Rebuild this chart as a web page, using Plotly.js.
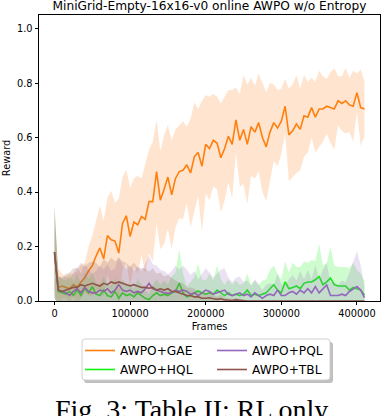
<!DOCTYPE html>
<html>
<head>
<meta charset="utf-8">
<script src="https://cdn.plot.ly/plotly-3.0.1.min.js"></script>
<style>
  html, body { margin: 0; padding: 0; background: #fff; }
  #chart { width: 382px; height: 416px; }
</style>
</head>
<body>
<div id="chart"></div>
<script>
// MiniGrid-Empty-16x16-v0, online AWPO w/o entropy: mean reward with a shaded band

const frames = [
  0, 5000, 10000, 15000, 20000, 25000, 30000, 35000, 40000, 45000,
  50000, 55000, 60000, 65000, 70000, 75000, 80000, 85000, 90000, 95000,
  100000, 105000, 110000, 115000, 120000, 125000, 130000, 135000, 140000, 145000,
  150000, 155000, 160000, 165000, 170000, 175000, 180000, 185000, 190000, 195000,
  200000, 205000, 210000, 215000, 220000, 225000, 230000, 235000, 240000, 245000,
  250000, 255000, 260000, 265000, 270000, 275000, 280000, 285000, 290000, 295000,
  300000, 305000, 310000, 315000, 320000, 325000, 330000, 335000, 340000, 345000,
  350000, 355000, 360000, 365000, 370000, 375000, 380000, 385000, 390000, 395000,
  400000, 405000, 410000
];

const gaeMean = [
  0.17, 0.05, 0.055, 0.05, 0.045, 0.06, 0.05, 0.07, 0.085, 0.11,
  0.13, 0.165, 0.195, 0.155, 0.24, 0.225, 0.22, 0.176, 0.285, 0.313,
  0.237, 0.29, 0.28, 0.31, 0.30, 0.365, 0.365, 0.475, 0.37, 0.41,
  0.455, 0.39, 0.45, 0.475, 0.48, 0.50, 0.47, 0.53, 0.545, 0.495,
  0.575, 0.56, 0.59, 0.58, 0.526, 0.56, 0.605, 0.575, 0.665, 0.59,
  0.63, 0.575, 0.64, 0.62, 0.655, 0.60, 0.566, 0.62, 0.655, 0.635,
  0.66, 0.715, 0.61, 0.625, 0.65, 0.63, 0.68, 0.675, 0.71, 0.675,
  0.705, 0.705, 0.715, 0.71, 0.705, 0.735, 0.725, 0.735, 0.72, 0.715,
  0.765, 0.71, 0.705
];
const gaeStd = [
  0.13, 0.07, 0.045, 0.04, 0.055, 0.04, 0.06, 0.06, 0.055, 0.09,
  0.11, 0.125, 0.155, 0.14, 0.14, 0.18, 0.14, 0.2, 0.17, 0.17,
  0.18, 0.16, 0.18, 0.14, 0.2, 0.19, 0.22, 0.19, 0.18, 0.2,
  0.19, 0.2, 0.18, 0.17, 0.18, 0.14, 0.2, 0.2, 0.16, 0.24,
  0.18, 0.19, 0.17, 0.17, 0.2, 0.19, 0.17, 0.2, 0.12, 0.17,
  0.2, 0.22, 0.18, 0.17, 0.18, 0.2, 0.2, 0.18, 0.14, 0.14,
  0.12, 0.1, 0.17, 0.17, 0.18, 0.15, 0.15, 0.13, 0.11, 0.13,
  0.14, 0.12, 0.1, 0.13, 0.15, 0.09, 0.1, 0.12, 0.1, 0.13,
  0.07, 0.14, 0.1
];

const hqlMean = [
  0.18, 0.035, 0.03, 0.025, 0.035, 0.02, 0.04, 0.02, 0.047, 0.03,
  0.053, 0.025, 0.02, 0.04, 0.02, 0.015, 0.035, 0.01, 0.03, 0.02,
  0.025, 0.015, 0.03, 0.02, 0.01, 0.005, 0.02, 0.03, 0.02, 0.025,
  0.02, 0.03, 0.035, 0.065, 0.03, 0.015, 0.02, 0.03, 0.037, 0.03,
  0.025, 0.03, 0.025, 0.04, 0.03, 0.02, 0.03, 0.02, 0.025, 0.02,
  0.025, 0.04, 0.02, 0.025, 0.02, 0.025, 0.03, 0.045, 0.06, 0.04,
  0.03, 0.07, 0.045, 0.05, 0.055, 0.045, 0.065, 0.07, 0.07, 0.078,
  0.09, 0.06, 0.07, 0.084, 0.06, 0.055, 0.055, 0.055, 0.04, 0.05,
  0.045, 0.04, 0.022
];
const hqlStd = [
  0.17, 0.06, 0.05, 0.05, 0.06, 0.05, 0.06, 0.04, 0.06, 0.05,
  0.05, 0.04, 0.04, 0.05, 0.04, 0.04, 0.05, 0.03, 0.05, 0.04,
  0.04, 0.03, 0.05, 0.04, 0.03, 0.02, 0.04, 0.05, 0.04, 0.05,
  0.04, 0.06, 0.07, 0.125, 0.07, 0.04, 0.05, 0.06, 0.1, 0.05,
  0.05, 0.07, 0.05, 0.09, 0.05, 0.04, 0.05, 0.04, 0.05, 0.04,
  0.04, 0.06, 0.04, 0.05, 0.04, 0.05, 0.05, 0.07, 0.07, 0.06,
  0.05, 0.075, 0.06, 0.09, 0.07, 0.08, 0.08, 0.07, 0.08, 0.07,
  0.12, 0.07, 0.07, 0.115, 0.07, 0.07, 0.07, 0.07, 0.08, 0.09,
  0.07, 0.06, 0.05
];

const pqlMean = [
  0.18, 0.04, 0.035, 0.03, 0.02, 0.035, 0.045, 0.03, 0.05, 0.035,
  0.03, 0.03, 0.04, 0.035, 0.045, 0.03, 0.04, 0.06, 0.04, 0.035,
  0.04, 0.03, 0.035, 0.03, 0.045, 0.065, 0.045, 0.04, 0.035, 0.03,
  0.028, 0.03, 0.04, 0.035, 0.04, 0.035, 0.025, 0.03, 0.02, 0.03,
  0.04, 0.035, 0.025, 0.03, 0.035, 0.04, 0.025, 0.02, 0.025, 0.03,
  0.02, 0.025, 0.015, 0.03, 0.02, 0.01, 0.02, 0.025, 0.02, 0.04,
  0.02, 0.02, 0.03, 0.035, 0.025, 0.04, 0.03, 0.045, 0.03, 0.053,
  0.03, 0.045, 0.059, 0.02, 0.02, 0.02, 0.025, 0.02, 0.035, 0.045,
  0.053, 0.04, 0.012
];
const pqlStd = [
  0.17, 0.05, 0.05, 0.06, 0.06, 0.07, 0.08, 0.07, 0.09, 0.08,
  0.07, 0.08, 0.09, 0.08, 0.09, 0.08, 0.08, 0.1, 0.09, 0.08,
  0.09, 0.08, 0.09, 0.08, 0.09, 0.1, 0.09, 0.09, 0.08, 0.08,
  0.07, 0.08, 0.09, 0.08, 0.09, 0.08, 0.07, 0.08, 0.06, 0.07,
  0.08, 0.07, 0.06, 0.07, 0.08, 0.08, 0.06, 0.05, 0.06, 0.06,
  0.05, 0.05, 0.04, 0.05, 0.04, 0.03, 0.04, 0.04, 0.04, 0.06,
  0.04, 0.04, 0.05, 0.06, 0.05, 0.07, 0.05, 0.07, 0.05, 0.08,
  0.05, 0.07, 0.08, 0.05, 0.05, 0.04, 0.05, 0.05, 0.07, 0.1,
  0.13, 0.09, 0.04
];

const tblMean = [
  0.18, 0.04, 0.035, 0.04, 0.045, 0.05, 0.05, 0.06, 0.055, 0.06,
  0.065, 0.06, 0.055, 0.065, 0.06, 0.07, 0.065, 0.07, 0.065, 0.06,
  0.055, 0.06, 0.055, 0.05, 0.05, 0.047, 0.05, 0.04, 0.045, 0.04,
  0.045, 0.035, 0.035, 0.03, 0.025, 0.02, 0.02, 0.015, 0.015, 0.01,
  0.01, 0.012, 0.008, 0.006, 0.008, 0.004, 0.003, 0.002, 0.004, 0.002,
  0.001, 0, 0, 0, 0, 0, 0, 0, 0, 0,
  0, 0, 0, 0, 0, 0, 0, 0, 0, 0,
  0, 0, 0, 0, 0, 0, 0, 0, 0, 0,
  0, 0, 0
];
const tblStd = [
  0.17, 0.05, 0.05, 0.06, 0.06, 0.07, 0.07, 0.08, 0.07, 0.08,
  0.08, 0.08, 0.07, 0.09, 0.08, 0.09, 0.08, 0.09, 0.08, 0.08,
  0.07, 0.08, 0.07, 0.07, 0.07, 0.06, 0.07, 0.06, 0.06, 0.05,
  0.05, 0.05, 0.04, 0.04, 0.04, 0.03, 0.03, 0.03, 0.02, 0.02,
  0.02, 0.02, 0.015, 0.01, 0.015, 0.01, 0.008, 0.006, 0.008, 0.005,
  0.003, 0, 0, 0, 0, 0, 0, 0, 0, 0,
  0, 0, 0, 0, 0, 0, 0, 0, 0, 0,
  0, 0, 0, 0, 0, 0, 0, 0, 0, 0,
  0, 0, 0
];

const seriesNames = ["AWPO+GAE", "AWPO+HQL", "AWPO+PQL", "AWPO+TBL"];
const seriesColors = ["#ff7f0e", "#11f011", "#9467bd", "#8c564b"];
const bandColors = ["rgba(255,127,14,0.2)", "rgba(17,240,17,0.2)", "rgba(148,103,189,0.2)", "rgba(140,86,75,0.2)"];
const means = [gaeMean, hqlMean, pqlMean, tblMean];
const stds = [gaeStd, hqlStd, pqlStd, tblStd];
const legendOf = ["legend", "legend", "legend2", "legend2"];

const traces = [];
for (let s = 0; s < seriesNames.length; s++) {
  const m = means[s], sd = stds[s];
  const upper = m.map((v, i) => v + sd[i]);
  const lower = m.map((v, i) => v - sd[i]);
  traces.push({
    x: frames.concat(frames.slice().reverse()),
    y: upper.concat(lower.slice().reverse()),
    type: "scatter", mode: "lines",
    fill: "toself", fillcolor: bandColors[s],
    line: { width: 0 }, hoverinfo: "skip", showlegend: false
  });
  traces.push({
    x: frames, y: m, name: seriesNames[s],
    type: "scatter", mode: "lines",
    line: { color: seriesColors[s], width: 1.6 },
    legend: legendOf[s]
  });
}

// plot area in pixels: x 39..380, y 15..301
const L = 39, R = 380, T = 15, B = 301;
const px = v => (v - L) / (R - L);
const py = v => (B - v) / (B - T);

function roundRect(x0, y0, x1, y1, r) {
  const rx = r / (R - L), ry = r / (B - T);
  const a = px(x0), b = px(x1), c = py(y0), d = py(y1);
  return `M ${a + rx},${c} L ${b - rx},${c} Q ${b},${c} ${b},${c - ry} L ${b},${d + ry} Q ${b},${d} ${b - rx},${d} ` +
         `L ${a + rx},${d} Q ${a},${d} ${a},${d + ry} L ${a},${c - ry} Q ${a},${c} ${a + rx},${c} Z`;
}

const axisFont = { family: "DejaVu Sans", size: 9.8, color: "#000" };
const legendFont = { family: "DejaVu Sans", size: 12.2, color: "#000" };

Plotly.newPlot("chart", traces, {
  width: 382, height: 416,
  margin: { l: L, r: 382 - R, t: T, b: 416 - B },
  paper_bgcolor: "#fff", plot_bgcolor: "#fff",
  font: { family: "DejaVu Sans", color: "#000" },
  title: {
    text: "MiniGrid-Empty-16x16-v0 online AWPO w/o Entropy",
    font: { family: "DejaVu Sans", size: 12.2, color: "#000" },
    x: px(209.5), xref: "paper", y: 1 - 6 / 416, yref: "container", yanchor: "middle"
  },
  xaxis: {
    range: [-20500, 430500], tickvals: [0, 100000, 200000, 300000, 400000],
    ticktext: ["0", "100000", "200000", "300000", "400000"],
    ticks: "outside", ticklen: 3.5, tickwidth: 0.8, tickcolor: "#000",
    showline: true, mirror: true, linecolor: "#000", linewidth: 0.9,
    showgrid: false, zeroline: false, tickfont: axisFont,
    title: { text: "Frames", font: axisFont, standoff: 4 }
  },
  yaxis: {
    range: [0, 1.05], tickvals: [0, 0.2, 0.4, 0.6, 0.8, 1.0],
    ticktext: ["0.0", "0.2", "0.4", "0.6", "0.8", "1.0"],
    ticks: "outside", ticklen: 3.5, tickwidth: 0.8, tickcolor: "#000",
    showline: true, mirror: true, linecolor: "#000", linewidth: 0.9,
    showgrid: false, zeroline: false, tickfont: axisFont,
    title: { text: "Reward", font: axisFont, standoff: 4 }
  },
  legend: {
    x: px(80), y: py(336), xanchor: "left", yanchor: "top",
    bgcolor: "rgba(0,0,0,0)", borderwidth: 0, font: legendFont
  },
  legend2: {
    x: px(212), y: py(336), xanchor: "left", yanchor: "top",
    bgcolor: "rgba(0,0,0,0)", borderwidth: 0, font: legendFont
  },
  shapes: [
    { type: "path", xref: "paper", yref: "paper", path: roundRect(84, 342, 333, 383, 3),
      fillcolor: "rgba(0,0,0,0.25)", line: { width: 0 }, layer: "below" },
    { type: "path", xref: "paper", yref: "paper", path: roundRect(82, 339, 330, 380, 3),
      fillcolor: "#fff", line: { color: "#d0d0d0", width: 1 }, layer: "below" }
  ],
  annotations: [{
    text: "Fig. 3: Table II: RL only", xref: "paper", yref: "paper",
    x: px(191.5), y: py(392), xanchor: "center", yanchor: "top", showarrow: false,
    font: { family: "Liberation Serif", size: 28, color: "#000" }
  }],
  showlegend: true
}, { displayModeBar: false, responsive: false });
</script>
</body>
</html>
